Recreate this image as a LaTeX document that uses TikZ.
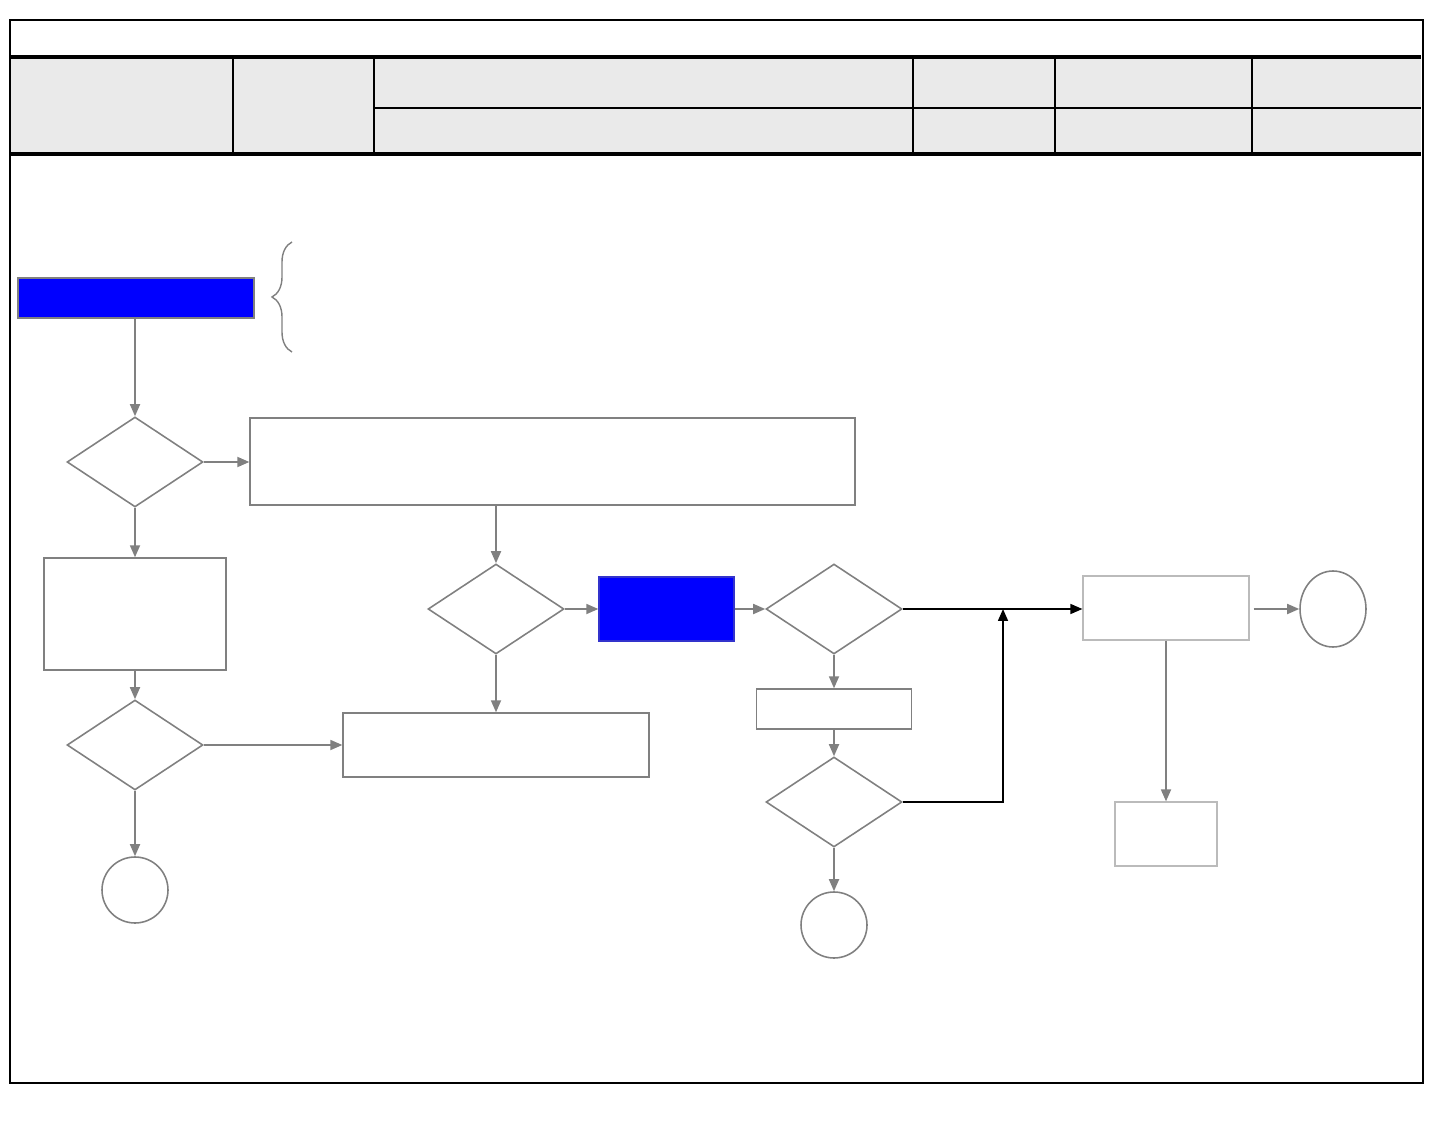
\documentclass[tikz,border=0pt]{standalone}
\usepackage{tikz}
\usepackage{xcolor}
\usetikzlibrary{arrows.meta}
\usetikzlibrary{shapes.geometric}
\usetikzlibrary{decorations.pathreplacing}

\definecolor{headgray}{HTML}{EAEAEA}
\definecolor{linegray}{HTML}{808080}
\definecolor{softgray}{HTML}{BBBBBB}

\tikzset{
	box/.style={draw=linegray, line width=0.8pt, inner sep=0pt},
	bluebox/.style={box, fill=blue},
	softbox/.style={draw=softgray, line width=0.7pt, inner sep=0pt},
	decision/.style={diamond, draw=linegray, line width=0.9pt, minimum width=2.72cm, minimum height=1.8cm, inner sep=0pt},
	terminal/.style={circle, draw=linegray, line width=0.9pt, minimum size=1.32cm, inner sep=0pt},
	flow/.style={draw=linegray, line width=1pt, -{Triangle[length=2.4mm,width=2mm]}},
	loopflow/.style={draw=black, line width=0.9pt, -{Triangle[length=2.4mm,width=2mm]}},
	frameline/.style={line width=1.3pt},
	headline/.style={line width=1.9pt},
}

\begin{document}
\begin{tikzpicture}[x=0.02cm, y=-0.02cm]
		\useasboundingbox (0,0) rectangle (1443,1131);
		%%%%%%%%%%%%%%%%%%%%%%%%%%%%%%%%%%%%%%
		%KOPF
		\fill[headgray] (10,57) rectangle (1421,154);
		\draw[frameline] (10,20) rectangle (1423,1083);
		\draw[headline] (10,57) -- (1421,57);
		\draw[headline] (10,154) -- (1421,154);
		\draw[frameline] (374,108) -- (1421,108);
		\foreach \xcol in {233,374,913,1055,1252}
			\draw[frameline] (\xcol,57) -- (\xcol,154);
		%
		%%%%%%%%%%%%%%%%%%%%%%%%%%%%%%%%%%%%%%
		%LINKE SPALTE
		%Start
		\node (start) at (136,298) [bluebox, minimum width=4.72cm, minimum height=0.8cm] {};
		%
		%Klammer
		\draw[linegray, line width=0.8pt, decorate, decoration={brace, amplitude=0.4cm}] (292,352) -- (292,242);
		%
		%Raute 1
		\node (d1) at (135,462) [decision] {};
		%
		%Grosser Kasten
		\node (big) at (552.5,461.5) [box, minimum width=12.1cm, minimum height=1.74cm] {};
		%
		%Kasten 2
		\node (box2) at (135,614) [box, minimum width=3.64cm, minimum height=2.24cm] {};
		%
		%Raute 3
		\node (d3) at (135,745) [decision] {};
		%
		%Kasten 4
		\node (box4) at (496,745) [box, minimum width=6.12cm, minimum height=1.28cm] {};
		%
		%Ende links
		\node (end1) at (135,890) [terminal] {};
		%
		%Pfeile links
		\draw[flow] (start.south -| d1.north) -- (d1.north);
		\draw[flow] (d1.east) -- (big.west |- d1.east);
		\draw[flow] (d1.south) -- (box2.north);
		\draw[flow] (box2.south) -- (d3.north);
		\draw[flow] (d3.east) -- (box4.west);
		\draw[flow] (d3.south) -- (end1.north);
		%
		%%%%%%%%%%%%%%%%%%%%%%%%%%%%%%%%%%%%%%
		%MITTE
		%Raute 2
		\node (d2) at (496,609) [decision] {};
		%
		%Blauer Kasten
		\node (blue2) at (666.5,609) [bluebox, draw=blue!60!gray, minimum width=2.7cm, minimum height=1.28cm] {};
		%
		%Raute 4
		\node (d4) at (834,609) [decision] {};
		%
		%Kleiner Kasten
		\node (small) at (834,709) [box, minimum width=3.1cm, minimum height=0.8cm] {};
		%
		%Raute 5
		\node (d5) at (834,802) [decision] {};
		%
		%Ende Mitte
		\node (end2) at (834,925) [terminal] {};
		%
		%Knick Rueckfuehrung
		\coordinate (join) at (1003,609);
		%
		%Pfeile Mitte
		\draw[flow] (big.south -| d2.north) -- (d2.north);
		\draw[flow] (d2.east) -- (blue2.west);
		\draw[flow] (d2.south) -- (box4.north);
		\draw[flow] (blue2.east) -- (d4.west);
		\draw[flow] (d4.south) -- (small.north);
		\draw[flow] (small.south) -- (d5.north);
		\draw[flow] (d5.south) -- (end2.north);
		%
		%%%%%%%%%%%%%%%%%%%%%%%%%%%%%%%%%%%%%%
		%RECHTE SEITE
		%Kasten 5
		\node (box5) at (1166,608) [softbox, minimum width=3.32cm, minimum height=1.28cm] {};
		%
		%Ende rechts
		\node (end3) at (1333,609) [ellipse, draw=linegray, line width=0.9pt, minimum width=1.32cm, minimum height=1.52cm, inner sep=0pt] {};
		%
		%Kasten 6
		\node (box6) at (1166,834) [softbox, minimum width=2.04cm, minimum height=1.28cm] {};
		%
		%Pfeile rechts
		\draw[loopflow] (d4.east) -- (box5.west |- d4.east);
		\draw[loopflow] (d5.east) -| (join);
		\draw[flow, shorten <=0.08cm] (box5.east |- end3.west) -- (end3.west);
		\draw[flow] (box5.south) -- (box6.north);
\end{tikzpicture}
\end{document}
